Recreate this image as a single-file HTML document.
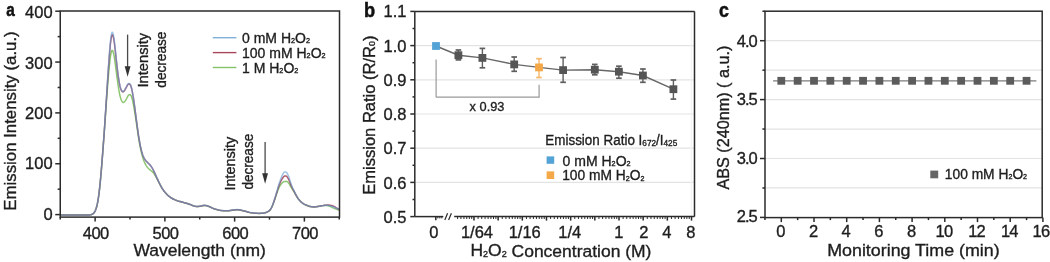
<!DOCTYPE html>
<html><head><meta charset="utf-8"><style>
html,body{margin:0;padding:0;background:#fff;width:1050px;height:262px;overflow:hidden}
svg{display:block;will-change:transform;filter:blur(0.3px);font-family:"Liberation Sans", sans-serif}
</style></head><body>
<svg width="1050" height="262" viewBox="0 0 1050 262">
<defs><clipPath id="clipA"><rect x="60.25" y="11.0" width="279.25" height="206.1"/></clipPath></defs>
<rect width="1050" height="262" fill="#fff"/>
<g clip-path="url(#clipA)" fill="none" stroke-width="1.5" stroke-linejoin="round">
<path d="M60.25,215.10 L62.31,215.10 L65.63,215.10 L69.50,215.11 L73.48,215.11 L77.13,215.11 L80.00,215.10 L82.08,215.09 L83.72,215.09 L85.03,215.08 L86.11,215.07 L87.07,215.04 L88.00,215.00 L88.85,214.96 L89.53,214.92 L90.08,214.87 L90.55,214.80 L91.01,214.68 L91.50,214.50 L92.01,214.28 L92.51,214.03 L92.98,213.74 L93.44,213.39 L93.88,212.95 L94.30,212.40 L94.71,211.75 L95.09,211.03 L95.46,210.21 L95.82,209.31 L96.16,208.31 L96.50,207.20 L96.82,206.01 L97.13,204.76 L97.43,203.40 L97.72,201.92 L98.01,200.30 L98.30,198.50 L98.59,196.51 L98.88,194.33 L99.17,192.00 L99.45,189.56 L99.73,187.06 L100.00,184.53 L100.26,181.95 L100.52,179.28 L100.77,176.56 L101.01,173.77 L101.26,170.96 L101.50,168.12 L101.74,165.28 L101.97,162.43 L102.19,159.55 L102.42,156.60 L102.66,153.56 L102.90,150.39 L103.15,147.14 L103.40,143.85 L103.66,140.47 L103.93,136.94 L104.21,133.21 L104.50,129.23 L104.81,124.90 L105.14,120.24 L105.47,115.38 L105.82,110.46 L106.16,105.60 L106.50,100.94 L106.84,96.39 L107.18,91.81 L107.52,87.31 L107.86,82.96 L108.18,78.86 L108.50,75.12 L108.81,71.69 L109.11,68.50 L109.40,65.57 L109.68,62.90 L109.95,60.51 L110.20,58.41 L110.43,56.65 L110.65,55.23 L110.86,54.09 L111.05,53.17 L111.23,52.39 L111.40,51.71 L111.55,51.14 L111.69,50.76 L111.81,50.53 L111.93,50.42 L112.06,50.39 L112.20,50.40 L112.35,50.45 L112.51,50.55 L112.67,50.74 L112.84,51.02 L113.01,51.44 L113.20,52.02 L113.39,52.72 L113.59,53.51 L113.80,54.43 L114.02,55.52 L114.25,56.82 L114.50,58.35 L114.77,60.19 L115.06,62.32 L115.36,64.66 L115.67,67.11 L115.98,69.58 L116.30,71.99 L116.62,74.40 L116.95,76.91 L117.29,79.44 L117.63,81.93 L117.96,84.30 L118.30,86.49 L118.63,88.53 L118.97,90.47 L119.30,92.30 L119.63,94.00 L119.97,95.54 L120.30,96.91 L120.64,98.10 L120.98,99.11 L121.32,99.97 L121.66,100.69 L121.98,101.29 L122.30,101.78 L122.60,102.15 L122.88,102.37 L123.15,102.48 L123.42,102.47 L123.70,102.39 L124.00,102.24 L124.32,101.99 L124.64,101.64 L124.98,101.20 L125.32,100.70 L125.66,100.17 L126.00,99.64 L126.34,99.06 L126.69,98.41 L127.03,97.73 L127.37,97.06 L127.70,96.46 L128.00,95.97 L128.28,95.59 L128.54,95.28 L128.78,95.03 L129.02,94.84 L129.26,94.72 L129.50,94.66 L129.75,94.63 L130.00,94.64 L130.24,94.71 L130.49,94.87 L130.74,95.15 L131.00,95.56 L131.26,96.10 L131.52,96.77 L131.79,97.54 L132.06,98.43 L132.33,99.42 L132.60,100.51 L132.87,101.70 L133.14,102.98 L133.42,104.37 L133.70,105.88 L133.99,107.53 L134.30,109.33 L134.63,111.34 L134.97,113.54 L135.32,115.89 L135.68,118.31 L136.04,120.76 L136.40,123.18 L136.76,125.62 L137.13,128.14 L137.49,130.69 L137.86,133.20 L138.23,135.63 L138.60,137.93 L138.97,140.11 L139.33,142.20 L139.69,144.22 L140.06,146.15 L140.43,147.99 L140.80,149.76 L141.18,151.44 L141.56,153.04 L141.95,154.56 L142.34,155.99 L142.72,157.32 L143.10,158.56 L143.47,159.67 L143.84,160.66 L144.20,161.55 L144.56,162.37 L144.93,163.15 L145.30,163.90 L145.67,164.62 L146.04,165.28 L146.42,165.90 L146.80,166.47 L147.19,167.02 L147.60,167.54 L148.02,168.02 L148.46,168.46 L148.91,168.87 L149.36,169.26 L149.83,169.66 L150.30,170.08 L150.78,170.48 L151.27,170.86 L151.77,171.24 L152.27,171.65 L152.78,172.13 L153.30,172.72 L153.82,173.41 L154.35,174.19 L154.88,175.04 L155.42,175.94 L155.96,176.87 L156.50,177.82 L157.04,178.81 L157.59,179.86 L158.14,180.94 L158.69,182.03 L159.24,183.11 L159.80,184.14 L160.36,185.15 L160.91,186.16 L161.47,187.15 L162.03,188.11 L162.61,189.04 L163.20,189.93 L163.80,190.78 L164.41,191.60 L165.03,192.37 L165.67,193.12 L166.32,193.84 L167.00,194.53 L167.70,195.19 L168.41,195.81 L169.14,196.41 L169.90,196.97 L170.68,197.52 L171.50,198.04 L172.35,198.53 L173.24,199.01 L174.16,199.45 L175.09,199.88 L176.04,200.28 L177.00,200.65 L177.97,200.98 L178.94,201.28 L179.94,201.55 L180.94,201.81 L181.97,202.08 L183.00,202.37 L184.07,202.67 L185.17,202.99 L186.28,203.31 L187.39,203.63 L188.47,203.96 L189.50,204.29 L190.48,204.64 L191.43,205.03 L192.34,205.41 L193.24,205.77 L194.12,206.08 L195.00,206.30 L195.87,206.43 L196.73,206.49 L197.58,206.49 L198.40,206.46 L199.21,206.40 L200.00,206.33 L200.76,206.22 L201.49,206.05 L202.20,205.85 L202.90,205.66 L203.60,205.53 L204.30,205.48 L204.99,205.51 L205.66,205.60 L206.33,205.73 L207.01,205.91 L207.73,206.13 L208.50,206.39 L209.32,206.71 L210.18,207.10 L211.07,207.53 L212.01,207.97 L212.98,208.39 L214.00,208.77 L215.08,209.12 L216.22,209.47 L217.41,209.80 L218.61,210.09 L219.82,210.35 L221.00,210.55 L222.19,210.69 L223.41,210.77 L224.62,210.80 L225.81,210.81 L226.95,210.79 L228.00,210.76 L228.95,210.71 L229.81,210.63 L230.62,210.52 L231.41,210.40 L232.19,210.29 L233.00,210.20 L233.83,210.11 L234.67,210.01 L235.50,209.91 L236.33,209.84 L237.17,209.80 L238.00,209.82 L238.81,209.89 L239.59,210.01 L240.38,210.17 L241.19,210.35 L242.05,210.56 L243.00,210.78 L244.05,211.03 L245.19,211.33 L246.38,211.65 L247.59,211.96 L248.81,212.26 L250.00,212.50 L251.18,212.71 L252.37,212.89 L253.56,213.05 L254.74,213.18 L255.89,213.29 L257.00,213.36 L258.08,213.40 L259.15,213.40 L260.19,213.38 L261.19,213.33 L262.13,213.25 L263.00,213.16 L263.79,213.04 L264.51,212.91 L265.17,212.76 L265.79,212.57 L266.40,212.35 L267.00,212.08 L267.60,211.78 L268.17,211.47 L268.73,211.12 L269.27,210.72 L269.79,210.23 L270.30,209.64 L270.78,208.96 L271.23,208.21 L271.67,207.38 L272.10,206.47 L272.54,205.46 L273.00,204.35 L273.48,203.09 L273.98,201.69 L274.48,200.20 L274.99,198.66 L275.50,197.14 L276.00,195.69 L276.50,194.27 L277.01,192.81 L277.52,191.37 L278.02,189.99 L278.52,188.72 L279.00,187.61 L279.47,186.67 L279.94,185.86 L280.41,185.17 L280.86,184.56 L281.29,184.01 L281.70,183.51 L282.09,183.07 L282.47,182.71 L282.82,182.41 L283.17,182.17 L283.49,181.96 L283.80,181.78 L284.08,181.64 L284.34,181.54 L284.58,181.49 L284.81,181.46 L285.05,181.45 L285.30,181.43 L285.57,181.41 L285.84,181.38 L286.12,181.36 L286.40,181.37 L286.70,181.44 L287.00,181.57 L287.31,181.76 L287.63,182.00 L287.95,182.29 L288.29,182.63 L288.63,183.04 L289.00,183.53 L289.38,184.11 L289.78,184.79 L290.19,185.54 L290.61,186.32 L291.05,187.12 L291.50,187.90 L291.97,188.66 L292.44,189.44 L292.94,190.22 L293.44,191.03 L293.97,191.86 L294.50,192.72 L295.05,193.65 L295.61,194.63 L296.19,195.64 L296.78,196.65 L297.38,197.61 L298.00,198.49 L298.64,199.31 L299.30,200.10 L299.97,200.84 L300.65,201.54 L301.33,202.17 L302.00,202.75 L302.67,203.26 L303.33,203.69 L304.00,204.07 L304.67,204.41 L305.33,204.72 L306.00,205.03 L306.67,205.32 L307.33,205.59 L308.00,205.83 L308.67,206.05 L309.33,206.25 L310.00,206.42 L310.66,206.56 L311.30,206.69 L311.94,206.79 L312.59,206.86 L313.28,206.90 L314.00,206.91 L314.77,206.88 L315.57,206.80 L316.41,206.70 L317.26,206.57 L318.13,206.44 L319.00,206.31 L319.90,206.16 L320.83,205.98 L321.78,205.79 L322.72,205.62 L323.64,205.49 L324.50,205.42 L325.31,205.41 L326.09,205.44 L326.84,205.51 L327.57,205.61 L328.29,205.76 L329.00,205.94 L329.70,206.19 L330.39,206.50 L331.06,206.85 L331.72,207.21 L332.37,207.56 L333.00,207.86 L333.62,208.13 L334.22,208.38 L334.81,208.61 L335.39,208.83 L335.95,209.04 L336.50,209.23 L337.06,209.42 L337.65,209.61 L338.22,209.78 L338.74,209.93 L339.18,210.06 L339.50,210.15" stroke="#80c060" stroke-opacity="0.9"/>
<path d="M60.25,215.10 L62.31,215.10 L65.63,215.10 L69.50,215.11 L73.48,215.11 L77.13,215.11 L80.00,215.10 L82.08,215.09 L83.72,215.09 L85.03,215.08 L86.11,215.07 L87.07,215.04 L88.00,215.00 L88.85,214.96 L89.53,214.92 L90.08,214.87 L90.55,214.80 L91.01,214.68 L91.50,214.50 L92.01,214.28 L92.51,214.03 L92.98,213.74 L93.44,213.39 L93.88,212.95 L94.30,212.40 L94.71,211.75 L95.09,211.03 L95.46,210.21 L95.82,209.31 L96.16,208.31 L96.50,207.20 L96.82,206.01 L97.13,204.76 L97.43,203.40 L97.72,201.92 L98.01,200.30 L98.30,198.50 L98.59,196.50 L98.88,194.32 L99.17,191.99 L99.45,189.55 L99.73,187.05 L100.00,184.51 L100.26,181.92 L100.52,179.25 L100.77,176.52 L101.01,173.72 L101.26,170.89 L101.50,168.03 L101.74,165.17 L101.97,162.30 L102.19,159.40 L102.42,156.41 L102.66,153.32 L102.90,150.09 L103.15,146.78 L103.40,143.42 L103.66,139.96 L103.93,136.32 L104.21,132.44 L104.50,128.26 L104.81,123.67 L105.14,118.71 L105.47,113.51 L105.82,108.19 L106.16,102.89 L106.50,97.71 L106.84,92.55 L107.18,87.28 L107.52,82.02 L107.86,76.89 L108.18,72.00 L108.50,67.49 L108.81,63.28 L109.11,59.28 L109.40,55.53 L109.68,52.06 L109.95,48.94 L110.20,46.19 L110.43,43.88 L110.65,41.98 L110.86,40.41 L111.05,39.10 L111.23,38.00 L111.40,37.01 L111.55,36.21 L111.69,35.64 L111.81,35.27 L111.93,35.05 L112.06,34.93 L112.20,34.87 L112.35,34.85 L112.51,34.90 L112.67,35.06 L112.84,35.35 L113.01,35.80 L113.20,36.46 L113.39,37.28 L113.59,38.23 L113.80,39.35 L114.02,40.67 L114.25,42.24 L114.50,44.08 L114.77,46.29 L115.06,48.87 L115.36,51.68 L115.67,54.62 L115.98,57.56 L116.30,60.38 L116.62,63.17 L116.95,66.05 L117.29,68.93 L117.63,71.73 L117.96,74.37 L118.30,76.77 L118.63,78.96 L118.97,81.00 L119.30,82.89 L119.63,84.60 L119.97,86.13 L120.30,87.47 L120.64,88.59 L120.98,89.49 L121.32,90.22 L121.66,90.79 L121.98,91.24 L122.30,91.59 L122.60,91.82 L122.88,91.91 L123.15,91.86 L123.42,91.72 L123.70,91.50 L124.00,91.22 L124.32,90.85 L124.64,90.36 L124.98,89.80 L125.32,89.19 L125.66,88.57 L126.00,87.99 L126.34,87.39 L126.69,86.74 L127.03,86.08 L127.37,85.46 L127.70,84.93 L128.00,84.53 L128.28,84.25 L128.54,84.06 L128.78,83.96 L129.02,83.93 L129.26,83.98 L129.50,84.11 L129.75,84.29 L130.00,84.52 L130.24,84.82 L130.49,85.23 L130.74,85.76 L131.00,86.45 L131.26,87.29 L131.52,88.27 L131.79,89.37 L132.06,90.59 L132.33,91.92 L132.60,93.35 L132.87,94.88 L133.14,96.50 L133.42,98.24 L133.70,100.09 L133.99,102.09 L134.30,104.24 L134.63,106.60 L134.97,109.17 L135.32,111.87 L135.68,114.64 L136.04,117.42 L136.40,120.13 L136.76,122.83 L137.13,125.58 L137.49,128.34 L137.86,131.04 L138.23,133.63 L138.60,136.06 L138.97,138.33 L139.33,140.49 L139.69,142.54 L140.06,144.48 L140.43,146.31 L140.80,148.02 L141.18,149.63 L141.56,151.13 L141.95,152.51 L142.34,153.79 L142.72,154.96 L143.10,156.01 L143.47,156.92 L143.84,157.69 L144.20,158.35 L144.56,158.93 L144.93,159.47 L145.30,160.01 L145.67,160.51 L146.04,160.94 L146.42,161.33 L146.80,161.71 L147.19,162.09 L147.60,162.51 L148.02,162.93 L148.46,163.35 L148.91,163.77 L149.36,164.22 L149.83,164.73 L150.30,165.31 L150.78,165.95 L151.27,166.65 L151.77,167.39 L152.27,168.20 L152.78,169.07 L153.30,170.01 L153.82,171.04 L154.35,172.17 L154.88,173.37 L155.42,174.59 L155.96,175.82 L156.50,177.01 L157.04,178.19 L157.59,179.38 L158.14,180.58 L158.69,181.76 L159.24,182.91 L159.80,184.01 L160.36,185.07 L160.91,186.11 L161.47,187.11 L162.03,188.08 L162.61,189.02 L163.20,189.91 L163.80,190.77 L164.41,191.58 L165.03,192.36 L165.67,193.11 L166.32,193.83 L167.00,194.51 L167.70,195.17 L168.41,195.80 L169.14,196.39 L169.90,196.96 L170.68,197.50 L171.50,198.02 L172.35,198.51 L173.24,198.99 L174.16,199.43 L175.09,199.86 L176.04,200.25 L177.00,200.62 L177.97,200.96 L178.94,201.25 L179.94,201.52 L180.94,201.78 L181.97,202.05 L183.00,202.33 L184.07,202.64 L185.17,202.95 L186.28,203.27 L187.39,203.59 L188.47,203.92 L189.50,204.24 L190.48,204.60 L191.43,204.98 L192.34,205.37 L193.24,205.73 L194.12,206.03 L195.00,206.25 L195.87,206.38 L196.73,206.44 L197.58,206.44 L198.40,206.40 L199.21,206.34 L200.00,206.27 L200.76,206.15 L201.49,205.97 L202.20,205.77 L202.90,205.58 L203.60,205.44 L204.30,205.39 L204.99,205.42 L205.66,205.50 L206.33,205.64 L207.01,205.82 L207.73,206.04 L208.50,206.30 L209.32,206.62 L210.18,207.00 L211.07,207.44 L212.01,207.88 L212.98,208.30 L214.00,208.69 L215.08,209.04 L216.22,209.38 L217.41,209.72 L218.61,210.02 L219.82,210.28 L221.00,210.48 L222.19,210.61 L223.41,210.69 L224.62,210.73 L225.81,210.73 L226.95,210.71 L228.00,210.68 L228.95,210.63 L229.81,210.54 L230.62,210.43 L231.41,210.31 L232.19,210.19 L233.00,210.10 L233.83,210.01 L234.67,209.90 L235.50,209.81 L236.33,209.73 L237.17,209.69 L238.00,209.71 L238.81,209.78 L239.59,209.91 L240.38,210.07 L241.19,210.25 L242.05,210.47 L243.00,210.69 L244.05,210.95 L245.19,211.25 L246.38,211.58 L247.59,211.90 L248.81,212.20 L250.00,212.45 L251.18,212.66 L252.37,212.85 L253.56,213.01 L254.74,213.15 L255.89,213.26 L257.00,213.33 L258.08,213.37 L259.15,213.38 L260.19,213.35 L261.19,213.30 L262.13,213.23 L263.00,213.13 L263.79,213.01 L264.51,212.88 L265.17,212.73 L265.79,212.54 L266.40,212.31 L267.00,212.04 L267.60,211.74 L268.17,211.43 L268.73,211.07 L269.27,210.66 L269.79,210.17 L270.30,209.57 L270.78,208.88 L271.23,208.12 L271.67,207.28 L272.10,206.35 L272.54,205.32 L273.00,204.17 L273.48,202.86 L273.98,201.41 L274.48,199.85 L274.99,198.24 L275.50,196.62 L276.00,195.04 L276.50,193.44 L277.01,191.78 L277.52,190.12 L278.02,188.49 L278.52,186.97 L279.00,185.58 L279.47,184.34 L279.94,183.20 L280.41,182.16 L280.86,181.20 L281.29,180.33 L281.70,179.54 L282.09,178.84 L282.47,178.23 L282.82,177.71 L283.17,177.27 L283.49,176.89 L283.80,176.57 L284.08,176.32 L284.34,176.16 L284.58,176.07 L284.81,176.02 L285.05,176.01 L285.30,176.02 L285.57,176.03 L285.84,176.06 L286.12,176.11 L286.40,176.23 L286.70,176.42 L287.00,176.70 L287.31,177.08 L287.63,177.54 L287.95,178.06 L288.29,178.67 L288.63,179.35 L289.00,180.11 L289.38,180.98 L289.78,181.96 L290.19,183.02 L290.61,184.12 L291.05,185.21 L291.50,186.26 L291.97,187.26 L292.44,188.25 L292.94,189.23 L293.44,190.21 L293.97,191.20 L294.50,192.21 L295.05,193.24 L295.61,194.32 L296.19,195.40 L296.78,196.46 L297.38,197.46 L298.00,198.39 L298.64,199.24 L299.30,200.05 L299.97,200.80 L300.65,201.50 L301.33,202.14 L302.00,202.73 L302.67,203.24 L303.33,203.67 L304.00,204.05 L304.67,204.39 L305.33,204.71 L306.00,205.01 L306.67,205.31 L307.33,205.58 L308.00,205.82 L308.67,206.04 L309.33,206.24 L310.00,206.41 L310.66,206.56 L311.30,206.68 L311.94,206.78 L312.59,206.85 L313.28,206.90 L314.00,206.91 L314.77,206.87 L315.57,206.80 L316.41,206.70 L317.26,206.57 L318.13,206.44 L319.00,206.30 L319.90,206.16 L320.83,205.98 L321.78,205.80 L322.72,205.63 L323.64,205.47 L324.50,205.35 L325.31,205.25 L326.09,205.17 L326.84,205.11 L327.57,205.07 L328.29,205.07 L329.00,205.10 L329.70,205.17 L330.39,205.27 L331.06,205.40 L331.72,205.56 L332.37,205.75 L333.00,205.97 L333.62,206.23 L334.22,206.53 L334.81,206.87 L335.39,207.21 L335.95,207.56 L336.50,207.88 L337.06,208.21 L337.65,208.56 L338.22,208.91 L338.74,209.23 L339.18,209.51 L339.50,209.70" stroke="#9a3550" stroke-opacity="0.8"/>
<path d="M60.25,215.10 L62.31,215.10 L65.63,215.10 L69.50,215.11 L73.48,215.11 L77.13,215.11 L80.00,215.10 L82.08,215.09 L83.72,215.09 L85.03,215.08 L86.11,215.07 L87.07,215.04 L88.00,215.00 L88.85,214.96 L89.53,214.92 L90.08,214.88 L90.55,214.80 L91.01,214.68 L91.50,214.50 L92.01,214.28 L92.51,214.03 L92.98,213.74 L93.44,213.39 L93.88,212.95 L94.30,212.40 L94.71,211.75 L95.09,211.03 L95.46,210.21 L95.82,209.31 L96.16,208.31 L96.50,207.20 L96.82,206.01 L97.13,204.76 L97.43,203.40 L97.72,201.92 L98.01,200.30 L98.30,198.50 L98.59,196.50 L98.88,194.32 L99.17,191.99 L99.45,189.55 L99.73,187.04 L100.00,184.50 L100.26,181.91 L100.52,179.24 L100.77,176.50 L101.01,173.70 L101.26,170.87 L101.50,168.00 L101.74,165.13 L101.97,162.26 L102.19,159.34 L102.42,156.35 L102.66,153.25 L102.90,150.00 L103.15,146.67 L103.40,143.30 L103.66,139.81 L103.93,136.15 L104.21,132.23 L104.50,128.00 L104.81,123.35 L105.14,118.33 L105.47,113.06 L105.82,107.67 L106.16,102.27 L106.50,97.00 L106.84,91.73 L107.18,86.33 L107.52,80.94 L107.86,75.67 L108.18,70.65 L108.50,66.00 L108.81,61.67 L109.11,57.54 L109.40,53.66 L109.68,50.07 L109.95,46.84 L110.20,44.00 L110.43,41.61 L110.65,39.64 L110.86,38.01 L111.05,36.66 L111.23,35.52 L111.40,34.50 L111.55,33.67 L111.69,33.08 L111.81,32.70 L111.93,32.47 L112.06,32.36 L112.20,32.30 L112.35,32.28 L112.51,32.34 L112.67,32.51 L112.84,32.82 L113.01,33.31 L113.20,34.00 L113.39,34.86 L113.59,35.87 L113.80,37.04 L114.02,38.43 L114.25,40.07 L114.50,42.00 L114.77,44.31 L115.06,47.00 L115.36,49.94 L115.67,53.00 L115.98,56.06 L116.30,59.00 L116.62,61.90 L116.95,64.89 L117.29,67.88 L117.63,70.78 L117.96,73.51 L118.30,76.00 L118.63,78.26 L118.97,80.36 L119.30,82.30 L119.63,84.06 L119.97,85.63 L120.30,87.00 L120.64,88.15 L120.98,89.07 L121.32,89.81 L121.66,90.39 L121.98,90.84 L122.30,91.20 L122.60,91.43 L122.88,91.51 L123.15,91.47 L123.42,91.32 L123.70,91.09 L124.00,90.80 L124.32,90.42 L124.64,89.92 L124.98,89.34 L125.32,88.72 L125.66,88.10 L126.00,87.50 L126.34,86.89 L126.69,86.23 L127.03,85.57 L127.37,84.94 L127.70,84.41 L128.00,84.00 L128.28,83.72 L128.54,83.53 L128.78,83.43 L129.02,83.41 L129.26,83.47 L129.50,83.60 L129.75,83.78 L130.00,84.02 L130.24,84.34 L130.49,84.76 L130.74,85.30 L131.00,86.00 L131.26,86.85 L131.52,87.84 L131.79,88.96 L132.06,90.20 L132.33,91.55 L132.60,93.00 L132.87,94.54 L133.14,96.19 L133.42,97.94 L133.70,99.81 L133.99,101.83 L134.30,104.00 L134.63,106.38 L134.97,108.96 L135.32,111.69 L135.68,114.48 L136.04,117.28 L136.40,120.00 L136.76,122.71 L137.13,125.48 L137.49,128.25 L137.86,130.96 L138.23,133.56 L138.60,136.00 L138.97,138.28 L139.33,140.44 L139.69,142.50 L140.06,144.44 L140.43,146.28 L140.80,148.00 L141.18,149.61 L141.56,151.11 L141.95,152.50 L142.34,153.78 L142.72,154.94 L143.10,156.00 L143.47,156.92 L143.84,157.69 L144.20,158.34 L144.56,158.93 L144.93,159.47 L145.30,160.00 L145.67,160.50 L146.04,160.93 L146.42,161.33 L146.80,161.70 L147.19,162.08 L147.60,162.50 L148.02,162.93 L148.46,163.34 L148.91,163.76 L149.36,164.21 L149.83,164.72 L150.30,165.30 L150.78,165.95 L151.27,166.64 L151.77,167.39 L152.27,168.19 L152.78,169.06 L153.30,170.00 L153.82,171.03 L154.35,172.16 L154.88,173.36 L155.42,174.58 L155.96,175.81 L156.50,177.00 L157.04,178.18 L157.59,179.37 L158.14,180.57 L158.69,181.75 L159.24,182.90 L159.80,184.00 L160.36,185.06 L160.91,186.10 L161.47,187.10 L162.03,188.07 L162.61,189.00 L163.20,189.90 L163.80,190.75 L164.41,191.57 L165.03,192.35 L165.67,193.10 L166.32,193.81 L167.00,194.50 L167.70,195.16 L168.41,195.78 L169.14,196.38 L169.90,196.94 L170.68,197.48 L171.50,198.00 L172.35,198.50 L173.24,198.97 L174.16,199.41 L175.09,199.83 L176.04,200.23 L177.00,200.60 L177.97,200.93 L178.94,201.23 L179.94,201.49 L180.94,201.75 L181.97,202.02 L183.00,202.30 L184.07,202.60 L185.17,202.91 L186.28,203.23 L187.39,203.55 L188.47,203.88 L189.50,204.20 L190.48,204.55 L191.43,204.93 L192.34,205.32 L193.24,205.68 L194.12,205.98 L195.00,206.20 L195.87,206.33 L196.73,206.38 L197.58,206.38 L198.40,206.34 L199.21,206.28 L200.00,206.20 L200.76,206.08 L201.49,205.90 L202.20,205.69 L202.90,205.50 L203.60,205.36 L204.30,205.30 L204.99,205.33 L205.66,205.41 L206.33,205.54 L207.01,205.72 L207.73,205.94 L208.50,206.20 L209.32,206.52 L210.18,206.91 L211.07,207.34 L212.01,207.79 L212.98,208.22 L214.00,208.60 L215.08,208.95 L216.22,209.30 L217.41,209.64 L218.61,209.94 L219.82,210.20 L221.00,210.40 L222.19,210.54 L223.41,210.61 L224.62,210.65 L225.81,210.65 L226.95,210.63 L228.00,210.60 L228.95,210.54 L229.81,210.45 L230.62,210.34 L231.41,210.21 L232.19,210.10 L233.00,210.00 L233.83,209.91 L234.67,209.80 L235.50,209.70 L236.33,209.62 L237.17,209.58 L238.00,209.60 L238.81,209.68 L239.59,209.80 L240.38,209.96 L241.19,210.16 L242.05,210.37 L243.00,210.60 L244.05,210.86 L245.19,211.17 L246.38,211.51 L247.59,211.84 L248.81,212.14 L250.00,212.40 L251.18,212.61 L252.37,212.81 L253.56,212.98 L254.74,213.11 L255.89,213.22 L257.00,213.30 L258.08,213.34 L259.15,213.35 L260.19,213.33 L261.19,213.27 L262.13,213.20 L263.00,213.10 L263.79,212.98 L264.51,212.85 L265.17,212.69 L265.79,212.50 L266.40,212.27 L267.00,212.00 L267.60,211.70 L268.17,211.38 L268.73,211.03 L269.27,210.61 L269.79,210.11 L270.30,209.50 L270.78,208.80 L271.23,208.04 L271.67,207.19 L272.10,206.24 L272.54,205.18 L273.00,204.00 L273.48,202.66 L273.98,201.17 L274.48,199.56 L274.99,197.89 L275.50,196.19 L276.00,194.50 L276.50,192.77 L277.01,190.96 L277.52,189.12 L278.02,187.31 L278.52,185.59 L279.00,184.00 L279.47,182.53 L279.94,181.14 L280.41,179.84 L280.86,178.62 L281.29,177.51 L281.70,176.50 L282.09,175.60 L282.47,174.81 L282.82,174.12 L283.17,173.53 L283.49,173.02 L283.80,172.60 L284.08,172.28 L284.34,172.06 L284.58,171.94 L284.81,171.88 L285.05,171.88 L285.30,171.90 L285.57,171.94 L285.84,172.01 L286.12,172.12 L286.40,172.31 L286.70,172.60 L287.00,173.00 L287.31,173.52 L287.63,174.14 L287.95,174.85 L288.29,175.65 L288.63,176.54 L289.00,177.50 L289.38,178.58 L289.78,179.80 L290.19,181.11 L290.61,182.44 L291.05,183.76 L291.50,185.00 L291.97,186.18 L292.44,187.33 L292.94,188.46 L293.44,189.58 L293.97,190.69 L294.50,191.80 L295.05,192.93 L295.61,194.07 L296.19,195.20 L296.78,196.30 L297.38,197.34 L298.00,198.30 L298.64,199.18 L299.30,200.00 L299.97,200.76 L300.65,201.47 L301.33,202.11 L302.00,202.70 L302.67,203.22 L303.33,203.66 L304.00,204.04 L304.67,204.38 L305.33,204.69 L306.00,205.00 L306.67,205.30 L307.33,205.57 L308.00,205.81 L308.67,206.03 L309.33,206.23 L310.00,206.40 L310.66,206.55 L311.30,206.67 L311.94,206.78 L312.59,206.85 L313.28,206.89 L314.00,206.90 L314.77,206.87 L315.57,206.79 L316.41,206.69 L317.26,206.56 L318.13,206.43 L319.00,206.30 L319.90,206.15 L320.83,205.98 L321.78,205.80 L322.72,205.63 L323.64,205.49 L324.50,205.40 L325.31,205.36 L326.09,205.35 L326.84,205.37 L327.57,205.42 L328.29,205.50 L329.00,205.60 L329.70,205.74 L330.39,205.91 L331.06,206.12 L331.72,206.34 L332.37,206.57 L333.00,206.80 L333.62,207.03 L334.22,207.28 L334.81,207.53 L335.39,207.79 L335.95,208.05 L336.50,208.30 L337.06,208.57 L337.65,208.86 L338.22,209.14 L338.74,209.41 L339.18,209.64 L339.50,209.80" stroke="#609fd4" stroke-opacity="0.6"/>
</g>
<rect x="60.25" y="11.0" width="279.25" height="206.1" fill="none" stroke="#2b2b2b" stroke-width="1.5"/>
<line x1="55.25" y1="214.60" x2="60.25" y2="214.60" stroke="#2b2b2b" stroke-width="1.5" />
<text x="52.60" y="220.00" font-size="16.5" text-anchor="end" font-weight="normal" fill="#1e1e1e" stroke="#1e1e1e" stroke-width="0.35" >0</text>
<line x1="57.65" y1="189.18" x2="60.25" y2="189.18" stroke="#2b2b2b" stroke-width="1.5" />
<line x1="55.25" y1="163.75" x2="60.25" y2="163.75" stroke="#2b2b2b" stroke-width="1.5" />
<text x="52.60" y="169.15" font-size="16.5" text-anchor="end" font-weight="normal" fill="#1e1e1e" stroke="#1e1e1e" stroke-width="0.35" >100</text>
<line x1="57.65" y1="138.32" x2="60.25" y2="138.32" stroke="#2b2b2b" stroke-width="1.5" />
<line x1="55.25" y1="112.90" x2="60.25" y2="112.90" stroke="#2b2b2b" stroke-width="1.5" />
<text x="52.60" y="119.00" font-size="16.5" text-anchor="end" font-weight="normal" fill="#1e1e1e" stroke="#1e1e1e" stroke-width="0.35" >200</text>
<line x1="57.65" y1="87.48" x2="60.25" y2="87.48" stroke="#2b2b2b" stroke-width="1.5" />
<line x1="55.25" y1="62.05" x2="60.25" y2="62.05" stroke="#2b2b2b" stroke-width="1.5" />
<text x="52.60" y="68.55" font-size="16.5" text-anchor="end" font-weight="normal" fill="#1e1e1e" stroke="#1e1e1e" stroke-width="0.35" >300</text>
<line x1="57.65" y1="36.62" x2="60.25" y2="36.62" stroke="#2b2b2b" stroke-width="1.5" />
<line x1="55.25" y1="11.20" x2="60.25" y2="11.20" stroke="#2b2b2b" stroke-width="1.5" />
<text x="52.60" y="18.15" font-size="16.5" text-anchor="end" font-weight="normal" fill="#1e1e1e" stroke="#1e1e1e" stroke-width="0.35" >400</text>
<line x1="60.25" y1="217.10" x2="60.25" y2="219.60" stroke="#2b2b2b" stroke-width="1.5" />
<line x1="95.12" y1="217.10" x2="95.12" y2="221.60" stroke="#2b2b2b" stroke-width="1.5" />
<text x="95.72" y="239.10" font-size="16.5" text-anchor="middle" font-weight="normal" fill="#1e1e1e" stroke="#1e1e1e" stroke-width="0.35" letter-spacing="-0.6">400</text>
<line x1="130.00" y1="217.10" x2="130.00" y2="219.60" stroke="#2b2b2b" stroke-width="1.5" />
<line x1="164.88" y1="217.10" x2="164.88" y2="221.60" stroke="#2b2b2b" stroke-width="1.5" />
<text x="165.47" y="239.10" font-size="16.5" text-anchor="middle" font-weight="normal" fill="#1e1e1e" stroke="#1e1e1e" stroke-width="0.35" letter-spacing="-0.6">500</text>
<line x1="199.75" y1="217.10" x2="199.75" y2="219.60" stroke="#2b2b2b" stroke-width="1.5" />
<line x1="234.62" y1="217.10" x2="234.62" y2="221.60" stroke="#2b2b2b" stroke-width="1.5" />
<text x="235.22" y="239.10" font-size="16.5" text-anchor="middle" font-weight="normal" fill="#1e1e1e" stroke="#1e1e1e" stroke-width="0.35" letter-spacing="-0.6">600</text>
<line x1="269.50" y1="217.10" x2="269.50" y2="219.60" stroke="#2b2b2b" stroke-width="1.5" />
<line x1="304.38" y1="217.10" x2="304.38" y2="221.60" stroke="#2b2b2b" stroke-width="1.5" />
<text x="304.98" y="239.10" font-size="16.5" text-anchor="middle" font-weight="normal" fill="#1e1e1e" stroke="#1e1e1e" stroke-width="0.35" letter-spacing="-0.6">700</text>
<line x1="339.25" y1="217.10" x2="339.25" y2="219.60" stroke="#2b2b2b" stroke-width="1.5" />
<text x="133.40" y="256.10" font-size="17.2" text-anchor="start" font-weight="normal" fill="#1e1e1e" stroke="#1e1e1e" stroke-width="0.35" textLength="132.50" lengthAdjust="spacingAndGlyphs" >Wavelength (nm)</text>
<text x="16.00" y="210.70" font-size="16.5" text-anchor="start" font-weight="normal" fill="#1e1e1e" stroke="#1e1e1e" stroke-width="0.35" textLength="179.40" lengthAdjust="spacingAndGlyphs" transform="rotate(-90 16.00 210.70)" >Emission Intensity (a.u.)</text>
<text transform="translate(6.3 16.0) scale(0.8 1)" font-size="19.2" font-weight="bold" fill="#111" stroke="#111" stroke-width="0.5">a</text>
<line x1="212.80" y1="37.70" x2="236.40" y2="37.70" stroke="#7fb0da" stroke-width="1.4" />
<text x="242.00" y="42.70" font-size="14" text-anchor="start" font-weight="normal" fill="#1e1e1e" stroke="#1e1e1e" stroke-width="0.35" >0 mM H<tspan font-size="7.28" dy="0.28">2</tspan><tspan dy="-0.28">O</tspan><tspan font-size="7.28" dy="0.28">2</tspan></text>
<line x1="212.80" y1="52.60" x2="236.40" y2="52.60" stroke="#a8475c" stroke-width="1.4" />
<text x="242.00" y="57.60" font-size="14" text-anchor="start" font-weight="normal" fill="#1e1e1e" stroke="#1e1e1e" stroke-width="0.35" >100 mM H<tspan font-size="7.28" dy="0.28">2</tspan><tspan dy="-0.28">O</tspan><tspan font-size="7.28" dy="0.28">2</tspan></text>
<line x1="212.80" y1="67.50" x2="236.40" y2="67.50" stroke="#86c26a" stroke-width="1.4" />
<text x="242.00" y="72.50" font-size="14" text-anchor="start" font-weight="normal" fill="#1e1e1e" stroke="#1e1e1e" stroke-width="0.35" >1 M H<tspan font-size="7.28" dy="0.28">2</tspan><tspan dy="-0.28">O</tspan><tspan font-size="7.28" dy="0.28">2</tspan></text>
<line x1="127.60" y1="34.60" x2="127.60" y2="69.80" stroke="#4a4a4a" stroke-width="1.3" />
<path d="M124.70,66.30 L130.50,66.30 L127.60,76.80 Z" fill="#333"/>
<line x1="265.10" y1="141.90" x2="265.10" y2="176.80" stroke="#4a4a4a" stroke-width="1.3" />
<path d="M262.20,173.30 L268.00,173.30 L265.10,183.80 Z" fill="#333"/>
<text x="148.30" y="87.50" font-size="13.8" text-anchor="start" font-weight="normal" fill="#1e1e1e" stroke="#1e1e1e" stroke-width="0.35" textLength="54.70" lengthAdjust="spacingAndGlyphs" transform="rotate(-90 148.30 87.50)" >Intensity</text>
<text x="166.30" y="87.70" font-size="13.8" text-anchor="start" font-weight="normal" fill="#1e1e1e" stroke="#1e1e1e" stroke-width="0.35" textLength="56.10" lengthAdjust="spacingAndGlyphs" transform="rotate(-90 166.30 87.70)" >decrease</text>
<text x="234.60" y="190.50" font-size="13.8" text-anchor="start" font-weight="normal" fill="#1e1e1e" stroke="#1e1e1e" stroke-width="0.35" textLength="53.70" lengthAdjust="spacingAndGlyphs" transform="rotate(-90 234.60 190.50)" >Intensity</text>
<text x="252.70" y="189.60" font-size="13.8" text-anchor="start" font-weight="normal" fill="#1e1e1e" stroke="#1e1e1e" stroke-width="0.35" textLength="55.90" lengthAdjust="spacingAndGlyphs" transform="rotate(-90 252.70 189.60)" >decrease</text>
<line x1="414.80" y1="45.60" x2="694.50" y2="45.60" stroke="#e3e3e3" stroke-width="1.2" />
<line x1="414.80" y1="79.80" x2="694.50" y2="79.80" stroke="#e3e3e3" stroke-width="1.2" />
<line x1="414.80" y1="114.00" x2="694.50" y2="114.00" stroke="#e3e3e3" stroke-width="1.2" />
<line x1="414.80" y1="148.20" x2="694.50" y2="148.20" stroke="#e3e3e3" stroke-width="1.2" />
<line x1="414.80" y1="182.40" x2="694.50" y2="182.40" stroke="#e3e3e3" stroke-width="1.2" />
<line x1="691.30" y1="11.40" x2="691.30" y2="216.60" stroke="#f2f2f2" stroke-width="1" />
<line x1="436.10" y1="59.50" x2="436.10" y2="97.20" stroke="#9a9a9a" stroke-width="1.2" />
<line x1="436.10" y1="97.20" x2="539.10" y2="97.20" stroke="#9a9a9a" stroke-width="1.2" />
<line x1="539.10" y1="84.80" x2="539.10" y2="97.80" stroke="#9a9a9a" stroke-width="1.2" />
<text x="469.60" y="110.90" font-size="13.5" text-anchor="start" font-weight="normal" fill="#1e1e1e" stroke="#1e1e1e" stroke-width="0.35" textLength="34.80" lengthAdjust="spacingAndGlyphs" >x 0.93</text>
<polyline fill="none" stroke="#676767" stroke-width="1.4" points="436,46 458.4,55.2 482.4,57.9 514.2,64.4 539,67.4 563.1,70.1 594.8,69.7 618.9,71.7 642.9,75.5 673.4,89.2"/>
<rect x="432.10" y="42.10" width="7.8" height="7.8" fill="#53a3d6"/>
<line x1="458.40" y1="50.00" x2="458.40" y2="59.90" stroke="#5e5e5e" stroke-width="1.4" />
<line x1="455.60" y1="50.00" x2="461.20" y2="50.00" stroke="#5e5e5e" stroke-width="1.7" />
<line x1="455.60" y1="59.90" x2="461.20" y2="59.90" stroke="#5e5e5e" stroke-width="1.7" />
<rect x="454.50" y="51.30" width="7.8" height="7.8" fill="#555555"/>
<line x1="482.40" y1="48.40" x2="482.40" y2="67.80" stroke="#5e5e5e" stroke-width="1.4" />
<line x1="479.60" y1="48.40" x2="485.20" y2="48.40" stroke="#5e5e5e" stroke-width="1.7" />
<line x1="479.60" y1="67.80" x2="485.20" y2="67.80" stroke="#5e5e5e" stroke-width="1.7" />
<rect x="478.50" y="54.00" width="7.8" height="7.8" fill="#555555"/>
<line x1="514.20" y1="57.00" x2="514.20" y2="71.30" stroke="#5e5e5e" stroke-width="1.4" />
<line x1="511.40" y1="57.00" x2="517.00" y2="57.00" stroke="#5e5e5e" stroke-width="1.7" />
<line x1="511.40" y1="71.30" x2="517.00" y2="71.30" stroke="#5e5e5e" stroke-width="1.7" />
<rect x="510.30" y="60.50" width="7.8" height="7.8" fill="#555555"/>
<line x1="539.00" y1="58.70" x2="539.00" y2="77.50" stroke="#f6b76a" stroke-width="1.4" />
<line x1="536.20" y1="58.70" x2="541.80" y2="58.70" stroke="#f6b76a" stroke-width="1.7" />
<line x1="536.20" y1="77.50" x2="541.80" y2="77.50" stroke="#f6b76a" stroke-width="1.7" />
<rect x="535.10" y="63.50" width="7.8" height="7.8" fill="#f4a847"/>
<line x1="563.10" y1="57.50" x2="563.10" y2="82.30" stroke="#5e5e5e" stroke-width="1.4" />
<line x1="560.30" y1="57.50" x2="565.90" y2="57.50" stroke="#5e5e5e" stroke-width="1.7" />
<line x1="560.30" y1="82.30" x2="565.90" y2="82.30" stroke="#5e5e5e" stroke-width="1.7" />
<rect x="559.20" y="66.20" width="7.8" height="7.8" fill="#555555"/>
<line x1="594.80" y1="64.40" x2="594.80" y2="74.80" stroke="#5e5e5e" stroke-width="1.4" />
<line x1="592.00" y1="64.40" x2="597.60" y2="64.40" stroke="#5e5e5e" stroke-width="1.7" />
<line x1="592.00" y1="74.80" x2="597.60" y2="74.80" stroke="#5e5e5e" stroke-width="1.7" />
<rect x="590.90" y="65.80" width="7.8" height="7.8" fill="#555555"/>
<line x1="618.90" y1="66.20" x2="618.90" y2="78.20" stroke="#5e5e5e" stroke-width="1.4" />
<line x1="616.10" y1="66.20" x2="621.70" y2="66.20" stroke="#5e5e5e" stroke-width="1.7" />
<line x1="616.10" y1="78.20" x2="621.70" y2="78.20" stroke="#5e5e5e" stroke-width="1.7" />
<rect x="615.00" y="67.80" width="7.8" height="7.8" fill="#555555"/>
<line x1="642.90" y1="69.00" x2="642.90" y2="82.30" stroke="#5e5e5e" stroke-width="1.4" />
<line x1="640.10" y1="69.00" x2="645.70" y2="69.00" stroke="#5e5e5e" stroke-width="1.7" />
<line x1="640.10" y1="82.30" x2="645.70" y2="82.30" stroke="#5e5e5e" stroke-width="1.7" />
<rect x="639.00" y="71.60" width="7.8" height="7.8" fill="#555555"/>
<line x1="673.40" y1="80.00" x2="673.40" y2="99.10" stroke="#5e5e5e" stroke-width="1.4" />
<line x1="670.60" y1="80.00" x2="676.20" y2="80.00" stroke="#5e5e5e" stroke-width="1.7" />
<line x1="670.60" y1="99.10" x2="676.20" y2="99.10" stroke="#5e5e5e" stroke-width="1.7" />
<rect x="669.50" y="85.30" width="7.8" height="7.8" fill="#555555"/>
<line x1="414.80" y1="11.40" x2="694.50" y2="11.40" stroke="#2b2b2b" stroke-width="1.5" />
<line x1="694.50" y1="11.40" x2="694.50" y2="216.60" stroke="#2b2b2b" stroke-width="1.5" />
<line x1="414.80" y1="11.40" x2="414.80" y2="216.60" stroke="#2b2b2b" stroke-width="1.5" />
<line x1="414.80" y1="216.60" x2="443.30" y2="216.60" stroke="#2b2b2b" stroke-width="1.5" />
<line x1="454.20" y1="216.60" x2="694.50" y2="216.60" stroke="#2b2b2b" stroke-width="1.5" />
<path d="M444.8,220 L447.6,213.2 M448.6,220 L451.4,213.2" stroke="#2b2b2b" stroke-width="1.2" fill="none"/>
<line x1="410.30" y1="216.60" x2="414.80" y2="216.60" stroke="#2b2b2b" stroke-width="1.5" />
<text x="406.40" y="222.80" font-size="16.5" text-anchor="end" font-weight="normal" fill="#1e1e1e" stroke="#1e1e1e" stroke-width="0.35" >0.5</text>
<line x1="412.50" y1="199.50" x2="414.80" y2="199.50" stroke="#2b2b2b" stroke-width="1.5" />
<line x1="410.30" y1="182.40" x2="414.80" y2="182.40" stroke="#2b2b2b" stroke-width="1.5" />
<text x="406.40" y="188.60" font-size="16.5" text-anchor="end" font-weight="normal" fill="#1e1e1e" stroke="#1e1e1e" stroke-width="0.35" >0.6</text>
<line x1="412.50" y1="165.30" x2="414.80" y2="165.30" stroke="#2b2b2b" stroke-width="1.5" />
<line x1="410.30" y1="148.20" x2="414.80" y2="148.20" stroke="#2b2b2b" stroke-width="1.5" />
<text x="406.40" y="154.40" font-size="16.5" text-anchor="end" font-weight="normal" fill="#1e1e1e" stroke="#1e1e1e" stroke-width="0.35" >0.7</text>
<line x1="412.50" y1="131.10" x2="414.80" y2="131.10" stroke="#2b2b2b" stroke-width="1.5" />
<line x1="410.30" y1="114.00" x2="414.80" y2="114.00" stroke="#2b2b2b" stroke-width="1.5" />
<text x="406.40" y="120.20" font-size="16.5" text-anchor="end" font-weight="normal" fill="#1e1e1e" stroke="#1e1e1e" stroke-width="0.35" >0.8</text>
<line x1="412.50" y1="96.90" x2="414.80" y2="96.90" stroke="#2b2b2b" stroke-width="1.5" />
<line x1="410.30" y1="79.80" x2="414.80" y2="79.80" stroke="#2b2b2b" stroke-width="1.5" />
<text x="406.40" y="86.00" font-size="16.5" text-anchor="end" font-weight="normal" fill="#1e1e1e" stroke="#1e1e1e" stroke-width="0.35" >0.9</text>
<line x1="412.50" y1="62.70" x2="414.80" y2="62.70" stroke="#2b2b2b" stroke-width="1.5" />
<line x1="410.30" y1="45.60" x2="414.80" y2="45.60" stroke="#2b2b2b" stroke-width="1.5" />
<text x="406.40" y="51.80" font-size="16.5" text-anchor="end" font-weight="normal" fill="#1e1e1e" stroke="#1e1e1e" stroke-width="0.35" >1.0</text>
<line x1="412.50" y1="28.50" x2="414.80" y2="28.50" stroke="#2b2b2b" stroke-width="1.5" />
<line x1="410.30" y1="11.40" x2="414.80" y2="11.40" stroke="#2b2b2b" stroke-width="1.5" />
<text x="406.40" y="16.60" font-size="16.5" text-anchor="end" font-weight="normal" fill="#1e1e1e" stroke="#1e1e1e" stroke-width="0.35" >1.1</text>
<line x1="435.80" y1="216.60" x2="435.80" y2="220.20" stroke="#2b2b2b" stroke-width="1.5" />
<line x1="437.80" y1="216.60" x2="437.80" y2="218.40" stroke="#2b2b2b" stroke-width="1.0" />
<line x1="439.80" y1="216.60" x2="439.80" y2="218.40" stroke="#2b2b2b" stroke-width="1.0" />
<line x1="441.80" y1="216.60" x2="441.80" y2="218.40" stroke="#2b2b2b" stroke-width="1.0" />
<line x1="473.98" y1="216.60" x2="473.98" y2="220.60" stroke="#2b2b2b" stroke-width="1.5" />
<line x1="478.09" y1="216.60" x2="478.09" y2="219.00" stroke="#2b2b2b" stroke-width="1.0" />
<line x1="481.76" y1="216.60" x2="481.76" y2="219.00" stroke="#2b2b2b" stroke-width="1.0" />
<line x1="485.08" y1="216.60" x2="485.08" y2="219.00" stroke="#2b2b2b" stroke-width="1.0" />
<line x1="488.12" y1="216.60" x2="488.12" y2="219.00" stroke="#2b2b2b" stroke-width="1.0" />
<line x1="490.91" y1="216.60" x2="490.91" y2="219.00" stroke="#2b2b2b" stroke-width="1.0" />
<line x1="493.49" y1="216.60" x2="493.49" y2="219.00" stroke="#2b2b2b" stroke-width="1.0" />
<line x1="495.90" y1="216.60" x2="495.90" y2="219.00" stroke="#2b2b2b" stroke-width="1.0" />
<line x1="498.15" y1="216.60" x2="498.15" y2="220.60" stroke="#2b2b2b" stroke-width="1.5" />
<line x1="502.26" y1="216.60" x2="502.26" y2="219.00" stroke="#2b2b2b" stroke-width="1.0" />
<line x1="505.93" y1="216.60" x2="505.93" y2="219.00" stroke="#2b2b2b" stroke-width="1.0" />
<line x1="509.25" y1="216.60" x2="509.25" y2="219.00" stroke="#2b2b2b" stroke-width="1.0" />
<line x1="512.29" y1="216.60" x2="512.29" y2="219.00" stroke="#2b2b2b" stroke-width="1.0" />
<line x1="515.08" y1="216.60" x2="515.08" y2="219.00" stroke="#2b2b2b" stroke-width="1.0" />
<line x1="517.66" y1="216.60" x2="517.66" y2="219.00" stroke="#2b2b2b" stroke-width="1.0" />
<line x1="520.07" y1="216.60" x2="520.07" y2="219.00" stroke="#2b2b2b" stroke-width="1.0" />
<line x1="522.32" y1="216.60" x2="522.32" y2="220.60" stroke="#2b2b2b" stroke-width="1.5" />
<line x1="526.43" y1="216.60" x2="526.43" y2="219.00" stroke="#2b2b2b" stroke-width="1.0" />
<line x1="530.10" y1="216.60" x2="530.10" y2="219.00" stroke="#2b2b2b" stroke-width="1.0" />
<line x1="533.42" y1="216.60" x2="533.42" y2="219.00" stroke="#2b2b2b" stroke-width="1.0" />
<line x1="536.46" y1="216.60" x2="536.46" y2="219.00" stroke="#2b2b2b" stroke-width="1.0" />
<line x1="539.25" y1="216.60" x2="539.25" y2="219.00" stroke="#2b2b2b" stroke-width="1.0" />
<line x1="541.83" y1="216.60" x2="541.83" y2="219.00" stroke="#2b2b2b" stroke-width="1.0" />
<line x1="544.24" y1="216.60" x2="544.24" y2="219.00" stroke="#2b2b2b" stroke-width="1.0" />
<line x1="546.49" y1="216.60" x2="546.49" y2="220.60" stroke="#2b2b2b" stroke-width="1.5" />
<line x1="550.60" y1="216.60" x2="550.60" y2="219.00" stroke="#2b2b2b" stroke-width="1.0" />
<line x1="554.27" y1="216.60" x2="554.27" y2="219.00" stroke="#2b2b2b" stroke-width="1.0" />
<line x1="557.59" y1="216.60" x2="557.59" y2="219.00" stroke="#2b2b2b" stroke-width="1.0" />
<line x1="560.63" y1="216.60" x2="560.63" y2="219.00" stroke="#2b2b2b" stroke-width="1.0" />
<line x1="563.42" y1="216.60" x2="563.42" y2="219.00" stroke="#2b2b2b" stroke-width="1.0" />
<line x1="566.00" y1="216.60" x2="566.00" y2="219.00" stroke="#2b2b2b" stroke-width="1.0" />
<line x1="568.41" y1="216.60" x2="568.41" y2="219.00" stroke="#2b2b2b" stroke-width="1.0" />
<line x1="570.66" y1="216.60" x2="570.66" y2="220.60" stroke="#2b2b2b" stroke-width="1.5" />
<line x1="574.77" y1="216.60" x2="574.77" y2="219.00" stroke="#2b2b2b" stroke-width="1.0" />
<line x1="578.44" y1="216.60" x2="578.44" y2="219.00" stroke="#2b2b2b" stroke-width="1.0" />
<line x1="581.76" y1="216.60" x2="581.76" y2="219.00" stroke="#2b2b2b" stroke-width="1.0" />
<line x1="584.80" y1="216.60" x2="584.80" y2="219.00" stroke="#2b2b2b" stroke-width="1.0" />
<line x1="587.59" y1="216.60" x2="587.59" y2="219.00" stroke="#2b2b2b" stroke-width="1.0" />
<line x1="590.17" y1="216.60" x2="590.17" y2="219.00" stroke="#2b2b2b" stroke-width="1.0" />
<line x1="592.58" y1="216.60" x2="592.58" y2="219.00" stroke="#2b2b2b" stroke-width="1.0" />
<line x1="594.83" y1="216.60" x2="594.83" y2="220.60" stroke="#2b2b2b" stroke-width="1.5" />
<line x1="598.94" y1="216.60" x2="598.94" y2="219.00" stroke="#2b2b2b" stroke-width="1.0" />
<line x1="602.61" y1="216.60" x2="602.61" y2="219.00" stroke="#2b2b2b" stroke-width="1.0" />
<line x1="605.93" y1="216.60" x2="605.93" y2="219.00" stroke="#2b2b2b" stroke-width="1.0" />
<line x1="608.97" y1="216.60" x2="608.97" y2="219.00" stroke="#2b2b2b" stroke-width="1.0" />
<line x1="611.76" y1="216.60" x2="611.76" y2="219.00" stroke="#2b2b2b" stroke-width="1.0" />
<line x1="614.34" y1="216.60" x2="614.34" y2="219.00" stroke="#2b2b2b" stroke-width="1.0" />
<line x1="616.75" y1="216.60" x2="616.75" y2="219.00" stroke="#2b2b2b" stroke-width="1.0" />
<line x1="619.00" y1="216.60" x2="619.00" y2="220.60" stroke="#2b2b2b" stroke-width="1.5" />
<line x1="623.11" y1="216.60" x2="623.11" y2="219.00" stroke="#2b2b2b" stroke-width="1.0" />
<line x1="626.78" y1="216.60" x2="626.78" y2="219.00" stroke="#2b2b2b" stroke-width="1.0" />
<line x1="630.10" y1="216.60" x2="630.10" y2="219.00" stroke="#2b2b2b" stroke-width="1.0" />
<line x1="633.14" y1="216.60" x2="633.14" y2="219.00" stroke="#2b2b2b" stroke-width="1.0" />
<line x1="635.93" y1="216.60" x2="635.93" y2="219.00" stroke="#2b2b2b" stroke-width="1.0" />
<line x1="638.51" y1="216.60" x2="638.51" y2="219.00" stroke="#2b2b2b" stroke-width="1.0" />
<line x1="640.92" y1="216.60" x2="640.92" y2="219.00" stroke="#2b2b2b" stroke-width="1.0" />
<line x1="643.17" y1="216.60" x2="643.17" y2="220.60" stroke="#2b2b2b" stroke-width="1.5" />
<line x1="647.28" y1="216.60" x2="647.28" y2="219.00" stroke="#2b2b2b" stroke-width="1.0" />
<line x1="650.95" y1="216.60" x2="650.95" y2="219.00" stroke="#2b2b2b" stroke-width="1.0" />
<line x1="654.27" y1="216.60" x2="654.27" y2="219.00" stroke="#2b2b2b" stroke-width="1.0" />
<line x1="657.31" y1="216.60" x2="657.31" y2="219.00" stroke="#2b2b2b" stroke-width="1.0" />
<line x1="660.10" y1="216.60" x2="660.10" y2="219.00" stroke="#2b2b2b" stroke-width="1.0" />
<line x1="662.68" y1="216.60" x2="662.68" y2="219.00" stroke="#2b2b2b" stroke-width="1.0" />
<line x1="665.09" y1="216.60" x2="665.09" y2="219.00" stroke="#2b2b2b" stroke-width="1.0" />
<line x1="667.34" y1="216.60" x2="667.34" y2="220.60" stroke="#2b2b2b" stroke-width="1.5" />
<line x1="671.45" y1="216.60" x2="671.45" y2="219.00" stroke="#2b2b2b" stroke-width="1.0" />
<line x1="675.12" y1="216.60" x2="675.12" y2="219.00" stroke="#2b2b2b" stroke-width="1.0" />
<line x1="678.44" y1="216.60" x2="678.44" y2="219.00" stroke="#2b2b2b" stroke-width="1.0" />
<line x1="681.48" y1="216.60" x2="681.48" y2="219.00" stroke="#2b2b2b" stroke-width="1.0" />
<line x1="684.27" y1="216.60" x2="684.27" y2="219.00" stroke="#2b2b2b" stroke-width="1.0" />
<line x1="686.85" y1="216.60" x2="686.85" y2="219.00" stroke="#2b2b2b" stroke-width="1.0" />
<line x1="689.26" y1="216.60" x2="689.26" y2="219.00" stroke="#2b2b2b" stroke-width="1.0" />
<line x1="691.51" y1="216.60" x2="691.51" y2="220.60" stroke="#2b2b2b" stroke-width="1.5" />
<line x1="457.59" y1="216.60" x2="457.59" y2="219.00" stroke="#2b2b2b" stroke-width="1.0" />
<line x1="460.91" y1="216.60" x2="460.91" y2="219.00" stroke="#2b2b2b" stroke-width="1.0" />
<line x1="463.95" y1="216.60" x2="463.95" y2="219.00" stroke="#2b2b2b" stroke-width="1.0" />
<line x1="466.74" y1="216.60" x2="466.74" y2="219.00" stroke="#2b2b2b" stroke-width="1.0" />
<line x1="469.32" y1="216.60" x2="469.32" y2="219.00" stroke="#2b2b2b" stroke-width="1.0" />
<line x1="471.73" y1="216.60" x2="471.73" y2="219.00" stroke="#2b2b2b" stroke-width="1.0" />
<text x="433.90" y="237.90" font-size="16.5" text-anchor="middle" font-weight="normal" fill="#1e1e1e" stroke="#1e1e1e" stroke-width="0.35" >0</text>
<text x="477.00" y="237.90" font-size="16.5" text-anchor="middle" font-weight="normal" fill="#1e1e1e" stroke="#1e1e1e" stroke-width="0.35" >1/64</text>
<text x="524.70" y="237.90" font-size="16.5" text-anchor="middle" font-weight="normal" fill="#1e1e1e" stroke="#1e1e1e" stroke-width="0.35" >1/16</text>
<text x="569.70" y="237.90" font-size="16.5" text-anchor="middle" font-weight="normal" fill="#1e1e1e" stroke="#1e1e1e" stroke-width="0.35" >1/4</text>
<text x="618.80" y="237.90" font-size="16.5" text-anchor="middle" font-weight="normal" fill="#1e1e1e" stroke="#1e1e1e" stroke-width="0.35" >1</text>
<text x="643.90" y="237.90" font-size="16.5" text-anchor="middle" font-weight="normal" fill="#1e1e1e" stroke="#1e1e1e" stroke-width="0.35" >2</text>
<text x="666.90" y="237.90" font-size="16.5" text-anchor="middle" font-weight="normal" fill="#1e1e1e" stroke="#1e1e1e" stroke-width="0.35" >4</text>
<text x="690.80" y="237.90" font-size="16.5" text-anchor="middle" font-weight="normal" fill="#1e1e1e" stroke="#1e1e1e" stroke-width="0.35" >8</text>
<text x="470.40" y="256.30" font-size="17.2" text-anchor="start" font-weight="normal" fill="#1e1e1e" stroke="#1e1e1e" stroke-width="0.35" textLength="181.00" lengthAdjust="spacingAndGlyphs" >H<tspan font-size="8.94" dy="0.34">2</tspan><tspan dy="-0.34">O</tspan><tspan font-size="8.94" dy="0.34">2</tspan> Concentration (M)</text>
<text x="375.00" y="194.70" font-size="16.5" text-anchor="start" font-weight="normal" fill="#1e1e1e" stroke="#1e1e1e" stroke-width="0.35" textLength="159.10" lengthAdjust="spacingAndGlyphs" transform="rotate(-90 375.00 194.70)" >Emission Ratio (R/R<tspan font-size="8.8" dy="0.4">0</tspan><tspan dy="-0.4">)</tspan></text>
<text transform="translate(364.0 16.7) scale(0.92 1)" font-size="19.8" font-weight="bold" fill="#111" stroke="#111" stroke-width="0.5">b</text>
<text x="545.30" y="145.30" font-size="14" text-anchor="start" font-weight="normal" fill="#1e1e1e" stroke="#1e1e1e" stroke-width="0.35" textLength="132.00" lengthAdjust="spacingAndGlyphs" >Emission Ratio I<tspan font-size="8.6" dy="0.6">672</tspan><tspan dy="-0.6">/I</tspan><tspan font-size="8.6" dy="0.6">425</tspan></text>
<rect x="546.6" y="156.4" width="7.6" height="7.4" fill="#53a3d6"/>
<rect x="546.6" y="171.4" width="7.6" height="7.6" fill="#f4a847"/>
<text x="562.60" y="165.60" font-size="14" text-anchor="start" font-weight="normal" fill="#1e1e1e" stroke="#1e1e1e" stroke-width="0.35" >0 mM H<tspan font-size="7.28" dy="0.28">2</tspan><tspan dy="-0.28">O</tspan><tspan font-size="7.28" dy="0.28">2</tspan></text>
<text x="562.20" y="180.30" font-size="14" text-anchor="start" font-weight="normal" fill="#1e1e1e" stroke="#1e1e1e" stroke-width="0.35" textLength="82.30" lengthAdjust="spacingAndGlyphs" >100 mM H<tspan font-size="7.28" dy="0.28">2</tspan><tspan dy="-0.28">O</tspan><tspan font-size="7.28" dy="0.28">2</tspan></text>
<line x1="765.00" y1="40.70" x2="1042.20" y2="40.70" stroke="#e3e3e3" stroke-width="1.2" />
<line x1="765.00" y1="70.15" x2="1042.20" y2="70.15" stroke="#e3e3e3" stroke-width="1.2" />
<line x1="765.00" y1="99.60" x2="1042.20" y2="99.60" stroke="#e3e3e3" stroke-width="1.2" />
<line x1="765.00" y1="129.05" x2="1042.20" y2="129.05" stroke="#e3e3e3" stroke-width="1.2" />
<line x1="765.00" y1="158.50" x2="1042.20" y2="158.50" stroke="#e3e3e3" stroke-width="1.2" />
<line x1="765.00" y1="187.95" x2="1042.20" y2="187.95" stroke="#e3e3e3" stroke-width="1.2" />
<line x1="773.12" y1="80.80" x2="1036.36" y2="80.80" stroke="#7c7c7c" stroke-width="1.3" />
<rect x="777.40" y="76.90" width="7.8" height="7.8" fill="#5c5c5c"/>
<rect x="793.75" y="76.90" width="7.8" height="7.8" fill="#5c5c5c"/>
<rect x="810.10" y="76.90" width="7.8" height="7.8" fill="#5c5c5c"/>
<rect x="826.45" y="76.90" width="7.8" height="7.8" fill="#5c5c5c"/>
<rect x="842.80" y="76.90" width="7.8" height="7.8" fill="#5c5c5c"/>
<rect x="859.15" y="76.90" width="7.8" height="7.8" fill="#5c5c5c"/>
<rect x="875.50" y="76.90" width="7.8" height="7.8" fill="#5c5c5c"/>
<rect x="891.85" y="76.90" width="7.8" height="7.8" fill="#5c5c5c"/>
<rect x="908.20" y="76.90" width="7.8" height="7.8" fill="#5c5c5c"/>
<rect x="924.55" y="76.90" width="7.8" height="7.8" fill="#5c5c5c"/>
<rect x="940.90" y="76.90" width="7.8" height="7.8" fill="#5c5c5c"/>
<rect x="957.25" y="76.90" width="7.8" height="7.8" fill="#5c5c5c"/>
<rect x="973.60" y="76.90" width="7.8" height="7.8" fill="#5c5c5c"/>
<rect x="989.95" y="76.90" width="7.8" height="7.8" fill="#5c5c5c"/>
<rect x="1006.30" y="76.90" width="7.8" height="7.8" fill="#5c5c5c"/>
<rect x="1022.65" y="76.90" width="7.8" height="7.8" fill="#5c5c5c"/>
<rect x="765.0" y="11.2" width="277.20000000000005" height="206.4" fill="none" stroke="#2b2b2b" stroke-width="1.5"/>
<line x1="760.00" y1="217.40" x2="765.00" y2="217.40" stroke="#2b2b2b" stroke-width="1.5" />
<text x="756.80" y="222.40" font-size="16.5" text-anchor="end" font-weight="normal" fill="#1e1e1e" stroke="#1e1e1e" stroke-width="0.35" letter-spacing="-1">2.5</text>
<line x1="762.40" y1="187.95" x2="765.00" y2="187.95" stroke="#2b2b2b" stroke-width="1.5" />
<line x1="760.00" y1="158.50" x2="765.00" y2="158.50" stroke="#2b2b2b" stroke-width="1.5" />
<text x="756.80" y="163.50" font-size="16.5" text-anchor="end" font-weight="normal" fill="#1e1e1e" stroke="#1e1e1e" stroke-width="0.35" letter-spacing="-1">3.0</text>
<line x1="762.40" y1="129.05" x2="765.00" y2="129.05" stroke="#2b2b2b" stroke-width="1.5" />
<line x1="760.00" y1="99.60" x2="765.00" y2="99.60" stroke="#2b2b2b" stroke-width="1.5" />
<text x="756.80" y="104.60" font-size="16.5" text-anchor="end" font-weight="normal" fill="#1e1e1e" stroke="#1e1e1e" stroke-width="0.35" letter-spacing="-1">3.5</text>
<line x1="762.40" y1="70.15" x2="765.00" y2="70.15" stroke="#2b2b2b" stroke-width="1.5" />
<line x1="760.00" y1="40.70" x2="765.00" y2="40.70" stroke="#2b2b2b" stroke-width="1.5" />
<text x="756.80" y="46.90" font-size="16.5" text-anchor="end" font-weight="normal" fill="#1e1e1e" stroke="#1e1e1e" stroke-width="0.35" letter-spacing="-1">4.0</text>
<line x1="762.40" y1="11.25" x2="765.00" y2="11.25" stroke="#2b2b2b" stroke-width="1.5" />
<line x1="764.95" y1="217.60" x2="764.95" y2="220.10" stroke="#2b2b2b" stroke-width="1.5" />
<line x1="781.30" y1="217.60" x2="781.30" y2="222.10" stroke="#2b2b2b" stroke-width="1.5" />
<text x="780.40" y="236.90" font-size="16.5" text-anchor="middle" font-weight="normal" fill="#1e1e1e" stroke="#1e1e1e" stroke-width="0.35" letter-spacing="-0.8">0</text>
<line x1="797.65" y1="217.60" x2="797.65" y2="220.10" stroke="#2b2b2b" stroke-width="1.5" />
<line x1="814.00" y1="217.60" x2="814.00" y2="222.10" stroke="#2b2b2b" stroke-width="1.5" />
<text x="813.10" y="236.90" font-size="16.5" text-anchor="middle" font-weight="normal" fill="#1e1e1e" stroke="#1e1e1e" stroke-width="0.35" letter-spacing="-0.8">2</text>
<line x1="830.35" y1="217.60" x2="830.35" y2="220.10" stroke="#2b2b2b" stroke-width="1.5" />
<line x1="846.70" y1="217.60" x2="846.70" y2="222.10" stroke="#2b2b2b" stroke-width="1.5" />
<text x="845.80" y="236.90" font-size="16.5" text-anchor="middle" font-weight="normal" fill="#1e1e1e" stroke="#1e1e1e" stroke-width="0.35" letter-spacing="-0.8">4</text>
<line x1="863.05" y1="217.60" x2="863.05" y2="220.10" stroke="#2b2b2b" stroke-width="1.5" />
<line x1="879.40" y1="217.60" x2="879.40" y2="222.10" stroke="#2b2b2b" stroke-width="1.5" />
<text x="878.50" y="236.90" font-size="16.5" text-anchor="middle" font-weight="normal" fill="#1e1e1e" stroke="#1e1e1e" stroke-width="0.35" letter-spacing="-0.8">6</text>
<line x1="895.75" y1="217.60" x2="895.75" y2="220.10" stroke="#2b2b2b" stroke-width="1.5" />
<line x1="912.10" y1="217.60" x2="912.10" y2="222.10" stroke="#2b2b2b" stroke-width="1.5" />
<text x="911.20" y="236.90" font-size="16.5" text-anchor="middle" font-weight="normal" fill="#1e1e1e" stroke="#1e1e1e" stroke-width="0.35" letter-spacing="-0.8">8</text>
<line x1="928.45" y1="217.60" x2="928.45" y2="220.10" stroke="#2b2b2b" stroke-width="1.5" />
<line x1="944.80" y1="217.60" x2="944.80" y2="222.10" stroke="#2b2b2b" stroke-width="1.5" />
<text x="943.90" y="236.90" font-size="16.5" text-anchor="middle" font-weight="normal" fill="#1e1e1e" stroke="#1e1e1e" stroke-width="0.35" letter-spacing="-0.8">10</text>
<line x1="961.15" y1="217.60" x2="961.15" y2="220.10" stroke="#2b2b2b" stroke-width="1.5" />
<line x1="977.50" y1="217.60" x2="977.50" y2="222.10" stroke="#2b2b2b" stroke-width="1.5" />
<text x="976.60" y="236.90" font-size="16.5" text-anchor="middle" font-weight="normal" fill="#1e1e1e" stroke="#1e1e1e" stroke-width="0.35" letter-spacing="-0.8">12</text>
<line x1="993.85" y1="217.60" x2="993.85" y2="220.10" stroke="#2b2b2b" stroke-width="1.5" />
<line x1="1010.20" y1="217.60" x2="1010.20" y2="222.10" stroke="#2b2b2b" stroke-width="1.5" />
<text x="1009.30" y="236.90" font-size="16.5" text-anchor="middle" font-weight="normal" fill="#1e1e1e" stroke="#1e1e1e" stroke-width="0.35" letter-spacing="-0.8">14</text>
<line x1="1026.55" y1="217.60" x2="1026.55" y2="220.10" stroke="#2b2b2b" stroke-width="1.5" />
<line x1="1042.90" y1="217.60" x2="1042.90" y2="222.10" stroke="#2b2b2b" stroke-width="1.5" />
<text x="1040.90" y="236.90" font-size="16.5" text-anchor="middle" font-weight="normal" fill="#1e1e1e" stroke="#1e1e1e" stroke-width="0.35" letter-spacing="-0.8">16</text>
<text x="827.20" y="256.30" font-size="17.2" text-anchor="start" font-weight="normal" fill="#1e1e1e" stroke="#1e1e1e" stroke-width="0.35" textLength="172.50" lengthAdjust="spacingAndGlyphs" >Monitoring Time (min)</text>
<text x="729.20" y="189.60" font-size="16.3" text-anchor="start" font-weight="normal" fill="#1e1e1e" stroke="#1e1e1e" stroke-width="0.35" textLength="144.00" lengthAdjust="spacingAndGlyphs" transform="rotate(-90 729.20 189.60)" >ABS (240nm) ( a.u.)</text>
<text transform="translate(718.9 16.7) scale(0.9 1)" font-size="19.8" font-weight="bold" fill="#111" stroke="#111" stroke-width="0.5">c</text>
<rect x="930.3" y="170.6" width="7.9" height="7.7" fill="#656565"/>
<text x="944.80" y="179.00" font-size="14" text-anchor="start" font-weight="normal" fill="#1e1e1e" stroke="#1e1e1e" stroke-width="0.35" textLength="82.30" lengthAdjust="spacingAndGlyphs" >100 mM H<tspan font-size="7.28" dy="0.28">2</tspan><tspan dy="-0.28">O</tspan><tspan font-size="7.28" dy="0.28">2</tspan></text>
</svg>
</body></html>
